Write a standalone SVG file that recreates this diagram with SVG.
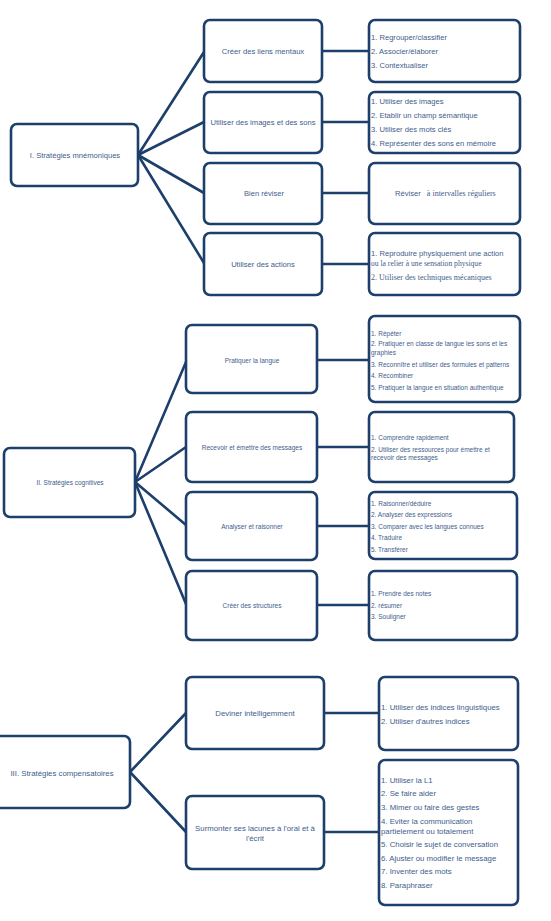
<svg xmlns="http://www.w3.org/2000/svg" width="551" height="921" viewBox="0 0 551 921">
<style>
rect.b{fill:#fff;stroke:#1d3f6b;stroke-width:2.6;rx:6;ry:6}
#connectors line{stroke:#1d3f6b;stroke-width:2.6;stroke-linecap:round}
text{font-family:"Liberation Sans",Arial,sans-serif;fill:#415d8c;dominant-baseline:central}
.s1{font-size:7.6px}
.s2{font-size:6.5px}
.s3{font-size:7.8px}
.m{text-anchor:middle}
.t{font-family:"Liberation Serif","Times New Roman",serif;font-size:8px}
</style>
<rect width="551" height="921" fill="#fff"/>
<g id="connectors">
<line x1="138" y1="155" x2="204" y2="52"/>
<line x1="138" y1="155" x2="204" y2="122"/>
<line x1="138" y1="155" x2="204" y2="193"/>
<line x1="138" y1="155" x2="204" y2="263"/>
<line x1="322" y1="51" x2="369" y2="51"/>
<line x1="322" y1="122" x2="369" y2="122"/>
<line x1="322" y1="193" x2="369" y2="193"/>
<line x1="322" y1="264" x2="369" y2="264"/>
<line x1="135" y1="482" x2="186" y2="362"/>
<line x1="135" y1="482" x2="186" y2="447"/>
<line x1="135" y1="482" x2="186" y2="525"/>
<line x1="135" y1="482" x2="186" y2="604"/>
<line x1="317" y1="360" x2="369" y2="360"/>
<line x1="317" y1="447" x2="369" y2="447"/>
<line x1="317" y1="526" x2="369" y2="526"/>
<line x1="317" y1="605" x2="369" y2="605"/>
<line x1="130" y1="772" x2="186" y2="713"/>
<line x1="130" y1="772" x2="186" y2="832"/>
<line x1="324" y1="713" x2="379" y2="713"/>
<line x1="324" y1="832" x2="379" y2="832"/>
</g>
<g id="n1"><rect class="b" x="11" y="124" width="127" height="62"/><text class="s1 m" x="75" y="155">I. Stratégies mnémoniques</text></g>
<g id="n1a"><rect class="b" x="204" y="20" width="118" height="62"/><text class="s1 m" x="263" y="51">Créer des liens mentaux</text></g>
<g id="n1b"><rect class="b" x="204" y="92" width="118" height="61"/><text class="s1 m" x="263" y="122">Utiliser des images et des sons</text></g>
<g id="n1c"><rect class="b" x="204" y="163" width="118" height="61"/><text class="s1 m" x="264" y="193">Bien réviser</text></g>
<g id="n1d"><rect class="b" x="204" y="233" width="118" height="62"/><text class="s1 m" x="263" y="264">Utiliser des actions</text></g>
<g id="n1a1"><rect class="b" x="369" y="20" width="151" height="62"/>
<text class="s1" x="371" y="37">1. Regrouper/classifier</text>
<text class="s1" x="371" y="51">2. Associer/élaborer</text>
<text class="s1" x="371" y="65">3. Contextualiser</text></g>
<g id="n1b1"><rect class="b" x="369" y="92" width="151" height="61"/>
<text class="s1" x="371" y="101">1. Utiliser des images</text>
<text class="s1" x="371" y="115">2. Etablir un champ sémantique</text>
<text class="s1" x="371" y="129">3. Utiliser des mots clés</text>
<text class="s1" x="371" y="143">4. Représenter des sons en mémoire</text></g>
<g id="n1c1"><rect class="b" x="369" y="163" width="151" height="61"/>
<text x="395" y="193"><tspan class="s1">Réviser </tspan><tspan class="t" dx="4">à intervalles réguliers</tspan></text></g>
<g id="n1d1"><rect class="b" x="369" y="233" width="151" height="62"/>
<text class="s1" x="371" y="253">1. Reproduire physiquement une action</text>
<text class="t" x="371" y="263" style="font-size:7.6px">ou la relier à une sensation physique</text>
<text class="t" x="371" y="277">2. Utiliser des techniques mécaniques</text></g>

<g id="n2"><rect class="b" x="4" y="448" width="131" height="69"/><text class="s2 m" x="70" y="482">II. Stratégies cognitives</text></g>
<g id="n2a"><rect class="b" x="186" y="325" width="131" height="68"/><text class="s2 m" x="252" y="360">Pratiquer la langue</text></g>
<g id="n2b"><rect class="b" x="186" y="412" width="131" height="70"/><text class="s2 m" x="252" y="447">Recevoir et émettre des messages</text></g>
<g id="n2c"><rect class="b" x="186" y="492" width="131" height="68"/><text class="s2 m" x="252" y="526">Analyser et raisonner</text></g>
<g id="n2d"><rect class="b" x="186" y="571" width="131" height="69"/><text class="s2 m" x="252" y="605">Créer des structures</text></g>
<g id="n2a1"><rect class="b" x="369" y="316" width="151" height="86"/>
<text class="s2" x="371" y="333">1. Répéter</text>
<text class="s2" x="371" y="343">2. Pratiquer en classe de langue les sons et les</text>
<text class="s2" x="371" y="352">graphies</text>
<text class="s2" x="371" y="364">3. Reconnître et utiliser des formules et patterns</text>
<text class="s2" x="371" y="375">4. Recombiner</text>
<text class="s2" x="371" y="387">5. Pratiquer la langue en situation authentique</text></g>
<g id="n2b1"><rect class="b" x="369" y="412" width="145" height="70"/>
<text class="s2" x="371" y="437">1. Comprendre rapidement</text>
<text class="s2" x="371" y="449">2. Utiliser des ressources pour émettre et</text>
<text class="s2" x="371" y="457">recevoir des messages</text></g>
<g id="n2c1"><rect class="b" x="369" y="492" width="148" height="67"/>
<text class="s2" x="371" y="503">1. Raisonner/déduire</text>
<text class="s2" x="371" y="514">2. Analyser des expressions</text>
<text class="s2" x="371" y="526">3. Comparer avec les langues connues</text>
<text class="s2" x="371" y="537">4. Traduire</text>
<text class="s2" x="371" y="549">5. Transférer</text></g>
<g id="n2d1"><rect class="b" x="369" y="571" width="148" height="69"/>
<text class="s2" x="371" y="593">1. Prendre des notes</text>
<text class="s2" x="371" y="605">2. résumer</text>
<text class="s2" x="371" y="616">3. Souligner</text></g>

<g id="n3"><rect class="b" x="-6" y="736" width="136" height="72"/><text class="s3 m" x="62" y="773">III. Stratégies compensatoires</text></g>
<g id="n3a"><rect class="b" x="186" y="677" width="138" height="72"/><text class="s3 m" x="255" y="713">Deviner intelligemment</text></g>
<g id="n3b"><rect class="b" x="186" y="796" width="138" height="73"/>
<text class="s3 m" x="255" y="828">Surmonter ses lacunes à l'oral et à</text>
<text class="s3 m" x="255" y="838">l'écrit</text></g>
<g id="n3a1"><rect class="b" x="379" y="677" width="139" height="73"/>
<text class="s3" x="381" y="707">1. Utiliser des indices linguistiques</text>
<text class="s3" x="381" y="721">2. Utiliser d'autres indices</text></g>
<g id="n3b1"><rect class="b" x="379" y="760" width="139" height="145"/>
<text class="s3" x="381" y="780">1. Utiliser la L1</text>
<text class="s3" x="381" y="793">2. Se faire aider</text>
<text class="s3" x="381" y="807">3. Mimer ou faire des gestes</text>
<text class="s3" x="381" y="821">4. Eviter la communication</text>
<text class="s3" x="381" y="831">partielement ou totalement</text>
<text class="s3" x="381" y="844">5. Choisir le sujet de conversation</text>
<text class="s3" x="381" y="858">6. Ajuster ou modifier le message</text>
<text class="s3" x="381" y="871">7. Inventer des mots</text>
<text class="s3" x="381" y="885">8. Paraphraser</text></g>
</svg>
